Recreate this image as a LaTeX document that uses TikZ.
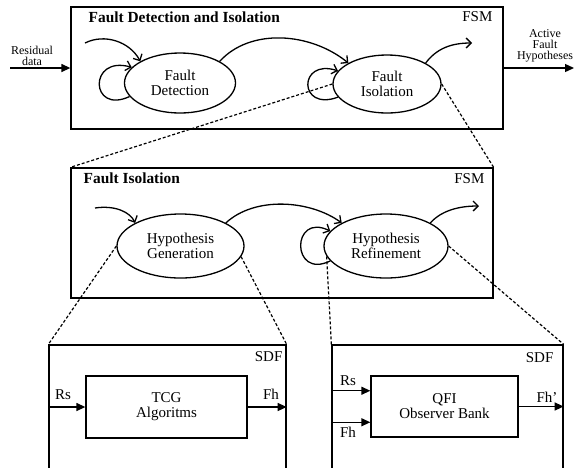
\documentclass[tikz,border=0pt]{standalone}
\usepackage{fontspec}
\setmainfont{Liberation Serif}
\usetikzlibrary{shapes.geometric,arrows.meta}

\begin{document}
\begin{tikzpicture}[   % opciones por defecto
      x=1pt, y=-1pt,     % coordenadas en pixeles, y hacia abajo
      line width=1.3pt,
      font=\fontsize{15}{15}\selectfont
    ]
    \tikzstyle{estado}=[draw, ellipse, inner sep=0pt, align=center];
    \tikzstyle{marco}=[draw, rectangle, inner sep=0pt];
    \tikzstyle{bloque}=[draw, rectangle, inner sep=0pt, align=center];
    \tikzstyle{titulo}=[inner sep=0pt, anchor=base west, font=\fontsize{15.4}{15}\selectfont\bfseries];
    \tikzstyle{rotulo}=[inner sep=0pt, anchor=base];
    \tikzstyle{chico}=[inner sep=0pt, align=center, font=\fontsize{12}{11}\selectfont];
    \tikzstyle{trans}=[-{Straight Barb[length=5pt,width=10pt]}];
    \tikzstyle{flujo}=[-{Triangle[length=9pt,width=8pt]}];
    \tikzstyle{zoomlinea}=[dash pattern=on 3pt off 2pt, line width=1.2pt];
    %
    \useasboundingbox (0,0) rectangle (575,467);
    \clip (0,0) rectangle (575,467);
    %
    % marco superior
    \node [marco, minimum width=432pt, minimum height=122pt] (fdi) at (287,68) {};
    \node [titulo] (tfdi) at (88,22) {Fault Detection and Isolation};
    \node [rotulo, anchor=base east] (fsma) at (493,21) {FSM};
    \node [estado, minimum width=111pt, minimum height=60pt] (fd) at (180,83) {Fault\\Detection};
    \node [estado, minimum width=108pt, minimum height=58pt] (fi) at (387,84) {Fault\\Isolation};
    %
    % transiciones de la FSM superior
    \coordinate (fdin) at (85,43);
    \coordinate (fiout) at (472,43);
    \draw[trans] (fdin) .. controls (105,33) and (130,42) .. (fd.north west);
    \draw[trans] (fd.195) .. controls (90,115) and (88,55) .. (fd.162);
    \draw[trans] (fd.north east) .. controls (250,28) and (310,32) .. (fi.north west);
    \draw[trans] (fi.195) .. controls (298,112) and (298,58) .. (fi.165);
    \draw[trans] (fi.north east) .. controls (437,48) and (452,43) .. (fiout);
    %
    % entrada y salida
    \coordinate (resin) at (10,68);
    \coordinate (actout) at (574,68);
    \node [chico] (tres) at (32,56) {Residual\\data};
    \node [chico] (tact) at (545,46) {Active\\Fault\\Hypotheses};
    \draw[flujo] (resin) -- (fdi.west);
    \draw[flujo] (fdi.east) -- (actout);
    %
    % marco Fault Isolation
    \node [marco, minimum width=422pt, minimum height=130pt] (fib) at (282,233) {};
    \node [titulo] (tfib) at (83,183) {Fault Isolation};
    \node [rotulo, anchor=base east] (fsmb) at (485,183) {FSM};
    \node [estado, minimum width=127pt, minimum height=64pt] (hg) at (180.5,246) {Hypothesis\\Generation};
    \node [estado, minimum width=124pt, minimum height=64pt] (hr) at (386,246) {Hypothesis\\Refinement};
    \draw[zoomlinea] (fi.west) -- (fib.north west);
    \draw[zoomlinea] (fi.east) -- (fib.north east);
    %
    % transiciones de la FSM inferior
    \coordinate (hgin) at (95,208);
    \coordinate (hrout) at (479,206);
    \draw[trans] (hgin) .. controls (115,205) and (130,212) .. (hg.north west);
    \draw[trans] (hg.north east) .. controls (255,196) and (310,200) .. (hr.north west);
    \draw[trans] (hr.195) .. controls (291,280) and (291,212) .. (hr.165);
    \draw[trans] (hr.north east) .. controls (442,210) and (460,206) .. (hrout);
    %
    % marcos SDF (abiertos por abajo)
    \node [marco, minimum width=237pt, minimum height=145pt] (sdfa) at (167.5,417.5) {};
    \node [marco, minimum width=231pt, minimum height=145pt] (sdfb) at (447.5,417.5) {};
    \node [rotulo, anchor=base east] (tsdfa) at (283,361) {SDF};
    \node [rotulo, anchor=base east] (tsdfb) at (554,362) {SDF};
    \draw[zoomlinea] (hg.west) -- (sdfa.north west);
    \draw[zoomlinea] (hg.350) -- (sdfa.north east);
    \draw[zoomlinea] (hr.190) -- (sdfb.north west);
    \draw[zoomlinea] (hr.east) -- (sdfb.north east);
    %
    % bloque TCG
    \node [bloque, minimum width=161pt, minimum height=62pt] (tcg) at (166.5,407) {TCG\\Algoritms};
    \draw[flujo] (sdfa.west |- tcg.west) -- (tcg.west);
    \draw[flujo] (tcg.east) -- (tcg.east -| sdfa.east);
    \node [rotulo] (rsa) at (63,399) {Rs};
    \node [rotulo] (fha) at (271,399) {Fh};
    %
    % bloque QFI
    \node [bloque, minimum width=147pt, minimum height=61pt] (qfi) at (444.5,406.5) {QFI\\Observer Bank};
    \draw[flujo] (sdfb.west |- qfi.168) -- (qfi.168);
    \draw[flujo] (sdfb.west |- qfi.192) -- (qfi.192);
    \draw[flujo] (qfi.east) -- (qfi.east -| sdfb.east);
    \node [rotulo] (rsb) at (348,385) {Rs};
    \node [rotulo] (fhb) at (348,437) {Fh};
    \node [rotulo] (fhc) at (547,402) {Fh'};
  \end{tikzpicture}
\end{document}
